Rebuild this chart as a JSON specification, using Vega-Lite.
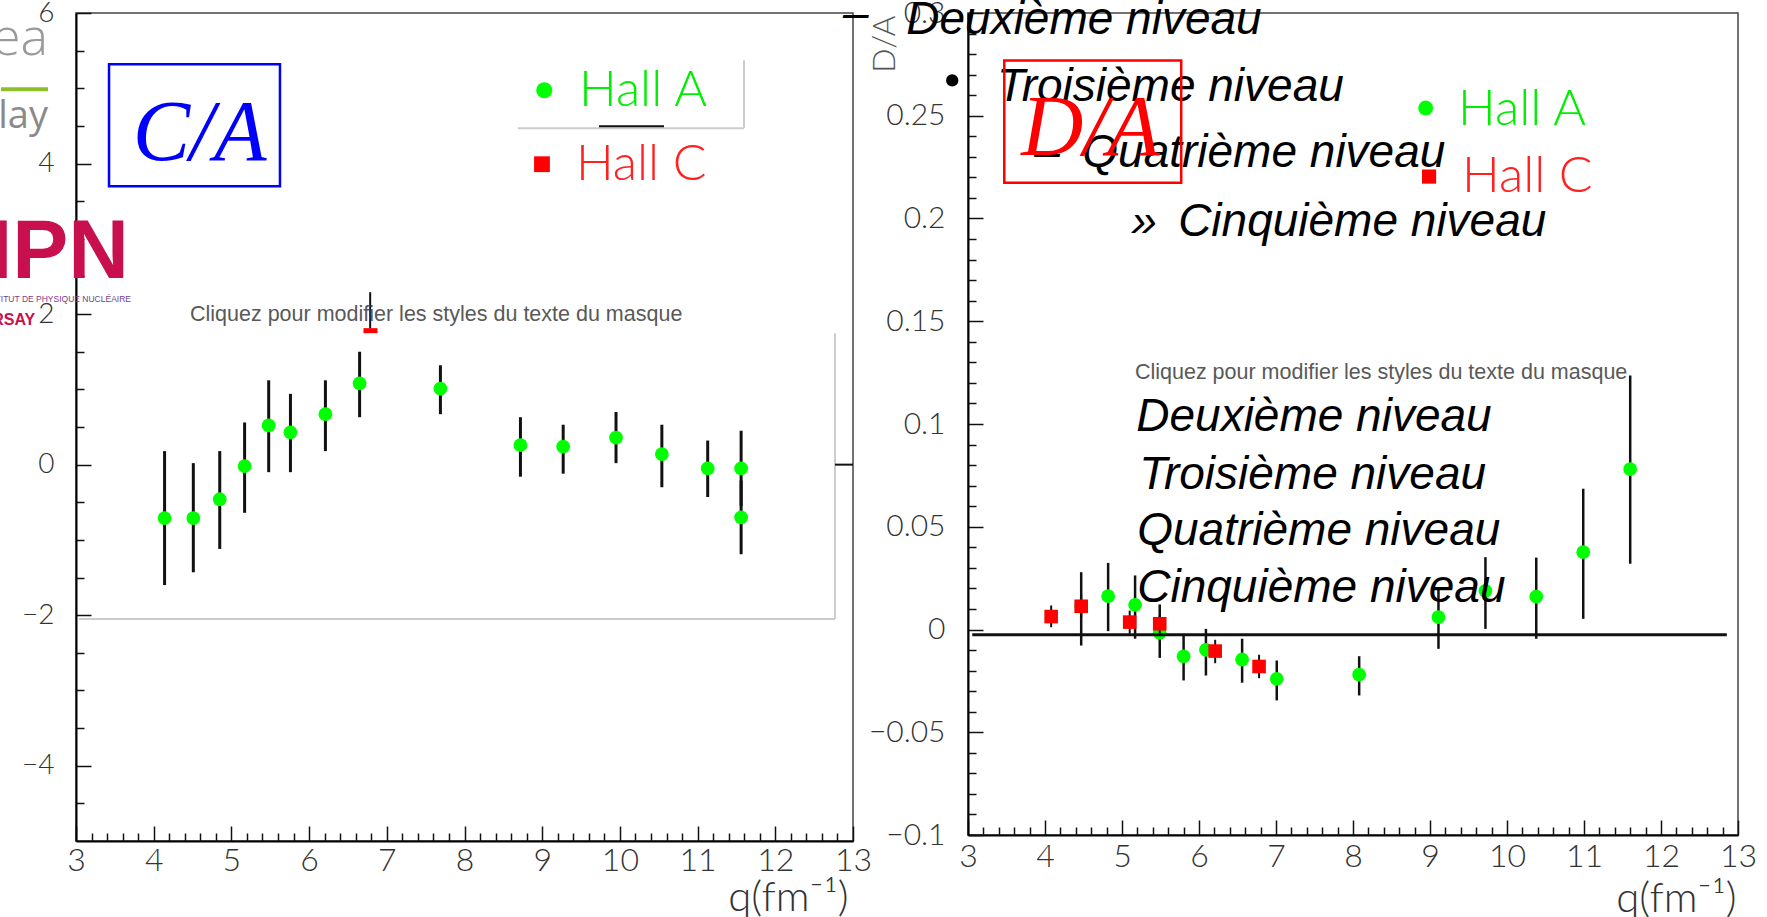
{
  "$schema": "https://vega.github.io/schema/vega-lite/v6.json",
  "background": "white",
  "padding": {"left": -12, "top": -10, "right": 0, "bottom": 0},
  "bounds": "flush",
  "spacing": 115,
  "config": {
    "view": {"stroke": "#444", "strokeWidth": 1.5},
    "axis": {"grid": false, "labelFlush": false, "labelOverlap": false, "labelFont": "Lato", "labelFontWeight": 300, "labelColor": "#333", "titleFont": "Lato", "titleFontWeight": 300, "titleColor": "#333", "tickColor": "#111", "tickWidth": 1.5, "domainColor": "#000", "domainWidth": 2}
  },
  "datasets": {
    "caA": [
      {"q": 4.14, "v": -0.71, "lo": -1.60, "hi": 0.18},
      {"q": 4.51, "v": -0.71, "lo": -1.43, "hi": 0.02},
      {"q": 4.85, "v": -0.46, "lo": -1.12, "hi": 0.18},
      {"q": 5.17, "v": -0.02, "lo": -0.64, "hi": 0.56},
      {"q": 5.48, "v": 0.52, "lo": -0.10, "hi": 1.12},
      {"q": 5.76, "v": 0.43, "lo": -0.10, "hi": 0.94},
      {"q": 6.21, "v": 0.67, "lo": 0.18, "hi": 1.12},
      {"q": 6.65, "v": 1.08, "lo": 0.63, "hi": 1.50},
      {"q": 7.69, "v": 1.01, "lo": 0.67, "hi": 1.32},
      {"q": 8.72, "v": 0.26, "lo": -0.16, "hi": 0.63},
      {"q": 9.27, "v": 0.24, "lo": -0.12, "hi": 0.53},
      {"q": 9.95, "v": 0.36, "lo": 0.02, "hi": 0.70},
      {"q": 10.54, "v": 0.14, "lo": -0.30, "hi": 0.53},
      {"q": 11.13, "v": -0.05, "lo": -0.43, "hi": 0.32},
      {"q": 11.56, "v": -0.05, "lo": -0.55, "hi": 0.45},
      {"q": 11.56, "v": -0.70, "lo": -1.19, "hi": -0.21}
    ],
    "caC": [{"q": 6.79, "v": 1.78}],
    "daA": [
      {"q": 4.47, "v": 0.0113, "lo": -0.0078, "hi": 0.0279},
      {"q": 4.82, "v": 0.0162, "lo": -0.0008, "hi": 0.0324},
      {"q": 5.17, "v": 0.0120, "lo": -0.0045, "hi": 0.0263},
      {"q": 5.49, "v": -0.0016, "lo": -0.0138, "hi": 0.0122},
      {"q": 5.80, "v": -0.0131, "lo": -0.0248, "hi": -0.0021},
      {"q": 6.09, "v": -0.0099, "lo": -0.0224, "hi": 0.0003},
      {"q": 6.56, "v": -0.0146, "lo": -0.0259, "hi": -0.0045},
      {"q": 7.01, "v": -0.0240, "lo": -0.0345, "hi": -0.0151},
      {"q": 8.08, "v": -0.0220, "lo": -0.0321, "hi": -0.0130},
      {"q": 9.11, "v": 0.0060, "lo": -0.0094, "hi": 0.0206},
      {"q": 9.72, "v": 0.0188, "lo": 0.0003, "hi": 0.0352},
      {"q": 10.38, "v": 0.0160, "lo": -0.0045, "hi": 0.0350},
      {"q": 10.99, "v": 0.0376, "lo": 0.0052, "hi": 0.0685},
      {"q": 11.60, "v": 0.0780, "lo": 0.0320, "hi": 0.1236}
    ],
    "daC": [
      {"q": 4.08, "v": 0.0063, "lo": 0.0011, "hi": 0.0117},
      {"q": 4.47, "v": 0.0113, "lo": 0.0060, "hi": 0.0170},
      {"q": 5.10, "v": 0.0036, "lo": -0.0021, "hi": 0.0092},
      {"q": 5.49, "v": 0.0028, "lo": -0.0020, "hi": 0.0070},
      {"q": 6.21, "v": -0.0105, "lo": -0.0164, "hi": -0.0050},
      {"q": 6.78, "v": -0.0180, "lo": -0.0237, "hi": -0.0123}
    ],
    "caBox": [{"x": 3.425, "x2": 5.625, "y": 5.319, "y2": 3.699}],
    "caLabel": [{"x": 3.730, "y": 4.044, "t": "C/A"}],
    "caLegA": [{"x": 9.027, "y": 4.973}],
    "caLegAText": [{"x": 9.474, "y": 4.765, "t": "Hall A"}],
    "caLegC": [{"x": 8.997, "y": 3.991}],
    "caLegCText": [{"x": 9.435, "y": 3.788, "t": "Hall C"}],
    "caGray": [
      {"x": 11.597, "x2": 11.597, "y": 5.372, "y2": 4.470},
      {"x": 8.685, "x2": 11.597, "y": 4.470, "y2": 4.470},
      {"x": 12.768, "x2": 12.768, "y": 1.746, "y2": -2.052},
      {"x": 3.039, "x2": 12.768, "y": -2.052, "y2": -2.052}
    ],
    "caBlack": [
      {"x": 9.731, "x2": 10.568, "y": 4.495, "y2": 4.495},
      {"x": 12.768, "x2": 13, "y": 0, "y2": 0},
      {"x": 6.786, "x2": 6.786, "y": 2.291, "y2": 1.813}
    ],
    "caNote": [{"x": 4.467, "y": 1.906, "t": "Cliquez pour modifier les styles du texte du masque"}],
    "logoIPN": [{"x": 3.682, "y": 2.477, "t": "IPN"}],
    "logoRSAY": [{"x": 2.476, "y": 1.852, "t": "RSAY"}],
    "logoInst": [{"x": 3.708, "y": 2.158, "t": "STITUT DE PHYSIQUE NUCLÉAIRE"}],
    "logoLay": [{"x": 2.640, "y": 4.467, "t": "lay"}],
    "logoEa": [{"x": 2.640, "y": 5.438, "t": "ea"}],
    "logoLine": [{"x": 2.035, "x2": 2.640, "y": 4.987}],
    "daBox": [{"x": 3.471, "x2": 5.769, "y": 0.2769, "y2": 0.2174}],
    "daLabel": [{"x": 3.692, "y": 0.2307, "t": "D/A"}],
    "daLegA": [{"x": 8.944, "y": 0.2538}],
    "daLegAText": [{"x": 9.365, "y": 0.2453, "t": "Hall A"}],
    "daLegC": [{"x": 8.988, "y": 0.2204}],
    "daLegCText": [{"x": 9.417, "y": 0.2127, "t": "Hall C"}],
    "zero": [{"x": 3.055, "x2": 12.855, "y": -0.0026}],
    "bullet": [{"x": 2.795, "y": 0.2672}],
    "slide": [
      {"x": 1.377, "y": 0.2927, "t": "–"},
      {"x": 2.198, "y": 0.2899, "t": "Deuxième niveau"},
      {"x": 3.376, "y": 0.2574, "t": "Troisième niveau"},
      {"x": 3.861, "y": 0.2250, "t": "–"},
      {"x": 4.484, "y": 0.2250, "t": "Quatrième niveau"},
      {"x": 5.120, "y": 0.1917, "t": "»"},
      {"x": 5.729, "y": 0.1917, "t": "Cinquième niveau"},
      {"x": 5.185, "y": 0.0968, "t": "Deuxième niveau"},
      {"x": 5.224, "y": 0.0685, "t": "Troisième niveau"},
      {"x": 5.198, "y": 0.0409, "t": "Quatrième niveau"},
      {"x": 5.198, "y": 0.0133, "t": "Cinquième niveau"}
    ],
    "daNote": [{"x": 5.168, "y": 0.1217, "t": "Cliquez pour modifier les styles du texte du masque"}]
  },
  "hconcat": [
    {
      "width": 777,
      "height": 828,
      "resolve": {"axis": {"x": "independent", "y": "independent"}},
      "layer": [
        {
          "data": {"name": "caGray"},
          "mark": {"type": "rule", "color": "#cccccc", "strokeWidth": 2},
          "encoding": {
            "x": {"field": "x", "type": "quantitative", "scale": {"domain": [3, 13], "nice": false, "zero": false}, "axis": null},
            "x2": {"field": "x2"},
            "y": {"field": "y", "type": "quantitative", "scale": {"domain": [-5, 6], "nice": false, "zero": false}, "axis": null},
            "y2": {"field": "y2"}
          }
        },
        {
          "data": {"name": "caA"},
          "mark": {"type": "rule", "color": "#111", "strokeWidth": 3},
          "encoding": {
            "x": {"field": "q", "type": "quantitative", "axis": {"orient": "bottom", "values": [3, 4, 5, 6, 7, 8, 9, 10, 11, 12, 13], "format": "d", "tickSize": -15, "labelFontSize": 32, "labelPadding": 19, "title": "q(fm⁻¹)", "titleFontSize": 42, "titleX": 772, "titleY": 69, "titleAlign": "right", "titleBaseline": "alphabetic"}},
            "y": {"field": "lo", "type": "quantitative", "axis": {"orient": "left", "values": [-4, -2, 0, 2, 4, 6], "format": "d", "tickSize": -15, "labelFontSize": 28, "labelPadding": 37, "title": null}},
            "y2": {"field": "hi"}
          }
        },
        {
          "data": {"name": "caA"},
          "mark": {"type": "point", "shape": "circle", "filled": true, "color": "#00ff00", "opacity": 1, "size": 190},
          "encoding": {
            "x": {"field": "q", "type": "quantitative", "axis": {"orient": "bottom", "values": [3.2, 3.4, 3.6, 3.8, 4.2, 4.4, 4.6, 4.8, 5.2, 5.4, 5.6, 5.8, 6.2, 6.4, 6.6, 6.8, 7.2, 7.4, 7.6, 7.8, 8.2, 8.4, 8.6, 8.8, 9.2, 9.4, 9.6, 9.8, 10.2, 10.4, 10.6, 10.8, 11.2, 11.4, 11.6, 11.8, 12.2, 12.4, 12.6, 12.8], "tickSize": -8, "labels": false, "domain": false, "title": null}},
            "y": {"field": "v", "type": "quantitative", "axis": {"orient": "left", "values": [-4.5, -3.5, -3, -2.5, -1.5, -1, -0.5, 0.5, 1, 1.5, 2.5, 3, 3.5, 4.5, 5, 5.5], "tickSize": -8, "labels": false, "domain": false, "title": null}}
          }
        },
        {
          "data": {"name": "caC"},
          "mark": {"type": "tick", "orient": "horizontal", "color": "#ff0000", "thickness": 5, "size": 14, "opacity": 1},
          "encoding": {
            "x": {"field": "q", "type": "quantitative", "axis": null},
            "y": {"field": "v", "type": "quantitative", "axis": null}
          }
        },
        {
          "data": {"name": "caBlack"},
          "mark": {"type": "rule", "color": "#111", "strokeWidth": 2},
          "encoding": {
            "x": {"field": "x", "type": "quantitative", "axis": null},
            "x2": {"field": "x2"},
            "y": {"field": "y", "type": "quantitative", "axis": null},
            "y2": {"field": "y2"}
          }
        },
        {
          "data": {"name": "caBox"},
          "mark": {"type": "rect", "filled": false, "stroke": "#0000ff", "strokeWidth": 2.5},
          "encoding": {
            "x": {"field": "x", "type": "quantitative", "axis": null},
            "x2": {"field": "x2"},
            "y": {"field": "y", "type": "quantitative", "axis": null},
            "y2": {"field": "y2"}
          }
        },
        {
          "data": {"name": "caLabel"},
          "mark": {"type": "text", "align": "left", "baseline": "alphabetic", "font": "Liberation Serif", "fontStyle": "italic", "fontSize": 86, "color": "#0000ff"},
          "encoding": {
            "x": {"field": "x", "type": "quantitative", "axis": null},
            "y": {"field": "y", "type": "quantitative", "axis": null},
            "text": {"field": "t"}
          }
        },
        {
          "data": {"name": "caLegA"},
          "mark": {"type": "point", "shape": "circle", "filled": true, "color": "#00ff00", "opacity": 1, "size": 260},
          "encoding": {
            "x": {"field": "x", "type": "quantitative", "axis": null},
            "y": {"field": "y", "type": "quantitative", "axis": null}
          }
        },
        {
          "data": {"name": "caLegC"},
          "mark": {"type": "point", "shape": "square", "filled": true, "color": "#ff0000", "opacity": 1, "size": 250},
          "encoding": {
            "x": {"field": "x", "type": "quantitative", "axis": null},
            "y": {"field": "y", "type": "quantitative", "axis": null}
          }
        },
        {
          "data": {"name": "caLegAText"},
          "mark": {"type": "text", "align": "left", "baseline": "alphabetic", "font": "Lato", "fontWeight": 300, "fontSize": 50, "color": "#00ee00"},
          "encoding": {
            "x": {"field": "x", "type": "quantitative", "axis": null},
            "y": {"field": "y", "type": "quantitative", "axis": null},
            "text": {"field": "t"}
          }
        },
        {
          "data": {"name": "caLegCText"},
          "mark": {"type": "text", "align": "left", "baseline": "alphabetic", "font": "Lato", "fontWeight": 300, "fontSize": 50, "color": "#ff2020"},
          "encoding": {
            "x": {"field": "x", "type": "quantitative", "axis": null},
            "y": {"field": "y", "type": "quantitative", "axis": null},
            "text": {"field": "t"}
          }
        },
        {
          "data": {"name": "caNote"},
          "mark": {"type": "text", "align": "left", "baseline": "alphabetic", "font": "Liberation Sans", "fontSize": 21.5, "color": "#595959"},
          "encoding": {
            "x": {"field": "x", "type": "quantitative", "axis": null},
            "y": {"field": "y", "type": "quantitative", "axis": null},
            "text": {"field": "t"}
          }
        },
        {
          "data": {"name": "logoIPN"},
          "mark": {"type": "text", "align": "right", "baseline": "alphabetic", "font": "Liberation Sans", "fontWeight": "bold", "fontSize": 84, "color": "#c8104e"},
          "encoding": {
            "x": {"field": "x", "type": "quantitative", "axis": null},
            "y": {"field": "y", "type": "quantitative", "axis": null},
            "text": {"field": "t"}
          }
        },
        {
          "data": {"name": "logoRSAY"},
          "mark": {"type": "text", "align": "right", "baseline": "alphabetic", "font": "Liberation Sans", "fontWeight": "bold", "fontSize": 16, "color": "#c8104e"},
          "encoding": {
            "x": {"field": "x", "type": "quantitative", "axis": null},
            "y": {"field": "y", "type": "quantitative", "axis": null},
            "text": {"field": "t"}
          }
        },
        {
          "data": {"name": "logoInst"},
          "mark": {"type": "text", "align": "right", "baseline": "alphabetic", "font": "Liberation Sans", "fontSize": 8.5, "color": "#7a3b8a"},
          "encoding": {
            "x": {"field": "x", "type": "quantitative", "axis": null},
            "y": {"field": "y", "type": "quantitative", "axis": null},
            "text": {"field": "t"}
          }
        },
        {
          "data": {"name": "logoLay"},
          "mark": {"type": "text", "align": "right", "baseline": "alphabetic", "font": "Open Sans", "fontSize": 38, "color": "#8a8a8a"},
          "encoding": {
            "x": {"field": "x", "type": "quantitative", "axis": null},
            "y": {"field": "y", "type": "quantitative", "axis": null},
            "text": {"field": "t"}
          }
        },
        {
          "data": {"name": "logoEa"},
          "mark": {"type": "text", "align": "right", "baseline": "alphabetic", "font": "Open Sans", "fontWeight": 300, "fontSize": 52, "color": "#9a9a9a"},
          "encoding": {
            "x": {"field": "x", "type": "quantitative", "axis": null},
            "y": {"field": "y", "type": "quantitative", "axis": null},
            "text": {"field": "t"}
          }
        },
        {
          "data": {"name": "logoLine"},
          "mark": {"type": "rule", "color": "#8cbf26", "strokeWidth": 4},
          "encoding": {
            "x": {"field": "x", "type": "quantitative", "axis": null},
            "x2": {"field": "x2"},
            "y": {"field": "y", "type": "quantitative", "axis": null}
          }
        }
      ]
    },
    {
      "width": 770,
      "height": 822,
      "resolve": {"axis": {"x": "independent", "y": "independent"}},
      "layer": [
        {
          "data": {"name": "daA"},
          "mark": {"type": "rule", "color": "#111", "strokeWidth": 2.5},
          "encoding": {
            "x": {"field": "q", "type": "quantitative", "scale": {"domain": [3, 13], "nice": false, "zero": false}, "axis": {"orient": "bottom", "values": [3, 4, 5, 6, 7, 8, 9, 10, 11, 12, 13], "format": "d", "tickSize": -15, "labelFontSize": 32, "labelPadding": 21, "title": "q(fm⁻¹)", "titleFontSize": 42, "titleX": 768, "titleY": 76, "titleAlign": "right", "titleBaseline": "alphabetic"}},
            "y": {"field": "lo", "type": "quantitative", "scale": {"domain": [-0.1, 0.3], "nice": false, "zero": false}, "axis": {"orient": "left", "values": [-0.1, -0.05, 0, 0.05, 0.1, 0.15, 0.2, 0.25, 0.3], "format": "~g", "tickSize": -15, "labelFontSize": 30, "labelPadding": 38, "title": "D/A", "titleFontSize": 32, "titleColor": "#555", "titleX": -84, "titleY": 2, "titleAngle": 270, "titleAlign": "right", "titleBaseline": "middle"}},
            "y2": {"field": "hi"}
          }
        },
        {
          "data": {"name": "daA"},
          "mark": {"type": "point", "shape": "circle", "filled": true, "color": "#00ff00", "opacity": 1, "size": 190},
          "encoding": {
            "x": {"field": "q", "type": "quantitative", "axis": {"orient": "bottom", "values": [3.2, 3.4, 3.6, 3.8, 4.2, 4.4, 4.6, 4.8, 5.2, 5.4, 5.6, 5.8, 6.2, 6.4, 6.6, 6.8, 7.2, 7.4, 7.6, 7.8, 8.2, 8.4, 8.6, 8.8, 9.2, 9.4, 9.6, 9.8, 10.2, 10.4, 10.6, 10.8, 11.2, 11.4, 11.6, 11.8, 12.2, 12.4, 12.6, 12.8], "tickSize": -8, "labels": false, "domain": false, "title": null}},
            "y": {"field": "v", "type": "quantitative", "axis": {"orient": "left", "values": [-0.09, -0.08, -0.07, -0.06, -0.04, -0.03, -0.02, -0.01, 0.01, 0.02, 0.03, 0.04, 0.06, 0.07, 0.08, 0.09, 0.11, 0.12, 0.13, 0.14, 0.16, 0.17, 0.18, 0.19, 0.21, 0.22, 0.23, 0.24, 0.26, 0.27, 0.28, 0.29], "tickSize": -8, "labels": false, "domain": false, "title": null}}
          }
        },
        {
          "data": {"name": "daC"},
          "mark": {"type": "rule", "color": "#111", "strokeWidth": 2},
          "encoding": {
            "x": {"field": "q", "type": "quantitative", "axis": null},
            "y": {"field": "lo", "type": "quantitative", "axis": null},
            "y2": {"field": "hi"}
          }
        },
        {
          "data": {"name": "daC"},
          "mark": {"type": "point", "shape": "square", "filled": true, "color": "#ff0000", "opacity": 1, "size": 185},
          "encoding": {
            "x": {"field": "q", "type": "quantitative", "axis": null},
            "y": {"field": "v", "type": "quantitative", "axis": null}
          }
        },
        {
          "data": {"name": "zero"},
          "mark": {"type": "rule", "color": "#111", "strokeWidth": 3},
          "encoding": {
            "x": {"field": "x", "type": "quantitative", "axis": null},
            "x2": {"field": "x2"},
            "y": {"field": "y", "type": "quantitative", "axis": null}
          }
        },
        {
          "data": {"name": "bullet"},
          "mark": {"type": "point", "shape": "circle", "filled": true, "color": "#000", "opacity": 1, "size": 150},
          "encoding": {
            "x": {"field": "x", "type": "quantitative", "axis": null},
            "y": {"field": "y", "type": "quantitative", "axis": null}
          }
        },
        {
          "data": {"name": "slide"},
          "mark": {"type": "text", "align": "left", "baseline": "alphabetic", "font": "Liberation Sans", "fontStyle": "italic", "fontSize": 46, "color": "#000"},
          "encoding": {
            "x": {"field": "x", "type": "quantitative", "axis": null},
            "y": {"field": "y", "type": "quantitative", "axis": null},
            "text": {"field": "t"}
          }
        },
        {
          "data": {"name": "daNote"},
          "mark": {"type": "text", "align": "left", "baseline": "alphabetic", "font": "Liberation Sans", "fontSize": 21.5, "color": "#595959"},
          "encoding": {
            "x": {"field": "x", "type": "quantitative", "axis": null},
            "y": {"field": "y", "type": "quantitative", "axis": null},
            "text": {"field": "t"}
          }
        },
        {
          "data": {"name": "daBox"},
          "mark": {"type": "rect", "filled": false, "stroke": "#ff0000", "strokeWidth": 2.5},
          "encoding": {
            "x": {"field": "x", "type": "quantitative", "axis": null},
            "x2": {"field": "x2"},
            "y": {"field": "y", "type": "quantitative", "axis": null},
            "y2": {"field": "y2"}
          }
        },
        {
          "data": {"name": "daLabel"},
          "mark": {"type": "text", "align": "left", "baseline": "alphabetic", "font": "Liberation Serif", "fontStyle": "italic", "fontSize": 86, "color": "#ff0000"},
          "encoding": {
            "x": {"field": "x", "type": "quantitative", "axis": null},
            "y": {"field": "y", "type": "quantitative", "axis": null},
            "text": {"field": "t"}
          }
        },
        {
          "data": {"name": "daLegA"},
          "mark": {"type": "point", "shape": "circle", "filled": true, "color": "#00ff00", "opacity": 1, "size": 220},
          "encoding": {
            "x": {"field": "x", "type": "quantitative", "axis": null},
            "y": {"field": "y", "type": "quantitative", "axis": null}
          }
        },
        {
          "data": {"name": "daLegC"},
          "mark": {"type": "point", "shape": "square", "filled": true, "color": "#ff0000", "opacity": 1, "size": 200},
          "encoding": {
            "x": {"field": "x", "type": "quantitative", "axis": null},
            "y": {"field": "y", "type": "quantitative", "axis": null}
          }
        },
        {
          "data": {"name": "daLegAText"},
          "mark": {"type": "text", "align": "left", "baseline": "alphabetic", "font": "Lato", "fontWeight": 300, "fontSize": 50, "color": "#00ee00"},
          "encoding": {
            "x": {"field": "x", "type": "quantitative", "axis": null},
            "y": {"field": "y", "type": "quantitative", "axis": null},
            "text": {"field": "t"}
          }
        },
        {
          "data": {"name": "daLegCText"},
          "mark": {"type": "text", "align": "left", "baseline": "alphabetic", "font": "Lato", "fontWeight": 300, "fontSize": 50, "color": "#ff2020"},
          "encoding": {
            "x": {"field": "x", "type": "quantitative", "axis": null},
            "y": {"field": "y", "type": "quantitative", "axis": null},
            "text": {"field": "t"}
          }
        }
      ]
    }
  ]
}
